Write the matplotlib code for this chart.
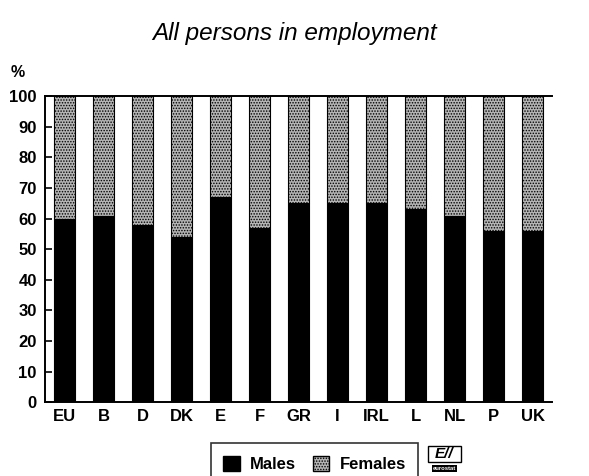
import matplotlib
matplotlib.use("Agg")
import matplotlib.pyplot as plt
from matplotlib.patches import Patch, Rectangle

plt.rcParams['font.family'] = ['Liberation Sans', 'DejaVu Sans']
plt.rcParams['hatch.color'] = '#3c3c3c'
plt.rcParams['hatch.linewidth'] = 0.7

countries = ["EU", "B", "D", "DK", "E", "F", "GR", "I", "IRL", "L", "NL", "P", "UK"]
males = [60, 61, 58, 54, 67, 57, 65, 65, 65, 63, 61, 56, 56]
females = [100 - m for m in males]
y_ticks = list(range(0, 101, 10))

fig = plt.figure(figsize=(5.89, 4.76), dpi=100)
ax = fig.add_axes([0.0764, 0.155, 0.861, 0.643])

x = range(len(countries))
ax.bar(x, males, width=0.54, color='black', edgecolor='black', linewidth=0.8)
ax.bar(x, females, width=0.54, bottom=males, color='#b4b4b4',
       edgecolor='black', linewidth=0.8, hatch='......')

ax.set_xlim(-0.5, len(countries) - 0.5)
ax.set_ylim(0, 100)
ax.set_yticks(y_ticks)
ax.set_xticks(list(x))
ax.set_xticklabels(countries)
for lab in ax.get_xticklabels() + ax.get_yticklabels():
    lab.set_fontweight('bold')
    lab.set_fontsize(12)
ax.tick_params(axis='y', direction='in', length=5, width=1.2, pad=6)
ax.tick_params(axis='x', length=0, pad=5)
ax.spines['right'].set_visible(False)
for s in ('left', 'bottom', 'top'):
    ax.spines[s].set_linewidth(1.4)

fig.text(0.5, 0.93, "All persons in employment", ha='center', va='center',
         fontsize=17.5, style='italic')
fig.text(0.018, 0.848, "%", ha='left', va='center', fontsize=11.5,
         fontweight='bold')

handles = [Patch(facecolor='black', edgecolor='black', label='Males'),
           Patch(facecolor='#b4b4b4', edgecolor='black', hatch='......',
                 label='Females')]
leg = fig.legend(handles=handles, loc='lower center', ncol=2,
                 bbox_to_anchor=(0.534, -0.035), frameon=True, fancybox=False,
                 edgecolor='black', prop={'weight': 'bold', 'size': 12},
                 handlelength=1.0, handleheight=1.0, columnspacing=1.0,
                 handletextpad=0.6, borderpad=0.75)
leg.get_frame().set_linewidth(1.2)

# eurostat logo
fig.text(0.754, 0.031, "E//", ha='center', va='bottom', fontsize=11,
         fontweight='bold', style='italic')
fig.patches.append(Rectangle((0.726, 0.029), 0.057, 0.034, transform=fig.transFigure,
                             fill=False, edgecolor='black', linewidth=1.0))
fig.text(0.754, 0.016, "eurostat", ha='center', va='center', fontsize=4.2,
         fontweight='bold', color='white',
         bbox=dict(facecolor='black', edgecolor='none', pad=0.6))

fig.savefig("out.png", dpi=100)
